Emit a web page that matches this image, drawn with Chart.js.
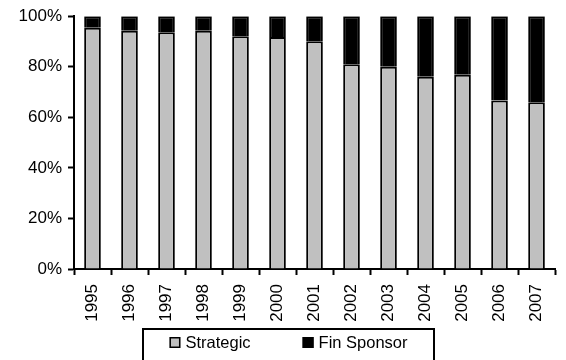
<!DOCTYPE html>
<html>
<head>
<meta charset="utf-8">
<script src="https://cdn.jsdelivr.net/npm/chart.js@4/dist/chart.umd.min.js"></script>
<style>
  html, body { margin: 0; padding: 0; background: #ffffff; }
  #wrap { width: 566px; height: 360px; }
</style>
</head>
<body>
<div id="wrap"><canvas id="chart" width="566" height="360"></canvas></div>
<script>
// Deal mix by buyer type, share of each year (%)
const years = ['1995', '1996', '1997', '1998', '1999', '2000', '2001', '2002', '2003', '2004', '2005', '2006', '2007'];
const strategic = [95.4, 94.2, 93.7, 94.2, 92.1, 91.8, 90.1, 81.0, 80.0, 76.0, 76.8, 66.7, 66.0];
const finSponsor = [4.6, 5.8, 6.3, 5.8, 7.9, 8.2, 9.9, 19.0, 20.0, 24.0, 23.2, 33.3, 34.0];
const percentTicks = [0, 20, 40, 60, 80, 100];

const FONT = '"Liberation Sans", Arial, Helvetica, sans-serif';
Chart.defaults.font.family = FONT;
Chart.defaults.font.size = 17;
Chart.defaults.color = '#000000';

// Framed legend under the axis labels
const framedLegend = {
  id: 'framedLegend',
  afterDraw(chart) {
    const ctx = chart.ctx;
    ctx.save();
    ctx.font = '16.5px ' + FONT;
    ctx.textBaseline = 'middle';
    ctx.textAlign = 'left';
    const sw = 11, gapText = 5, gapItem = 52;
    const items = chart.data.datasets.map(ds => ({
      text: ds.label,
      fill: ds.backgroundColor,
      w: ctx.measureText(ds.label).width
    }));
    const total = items.reduce((s, it) => s + sw + gapText + it.w, 0) + gapItem * (items.length - 1);
    const frameL = 143, frameR = 434, frameT = 329;
    ctx.strokeStyle = '#000000';
    ctx.lineWidth = 2;
    ctx.strokeRect(frameL, frameT, frameR - frameL, chart.height - frameT + 10);
    let x = (frameL + frameR) / 2 - total / 2;
    const cy = 343;
    items.forEach(it => {
      ctx.fillStyle = it.fill;
      ctx.fillRect(x, cy - 6, sw, sw);
      ctx.lineWidth = 1.5;
      ctx.strokeRect(x + 0.75, cy - 5.25, sw - 1.5, sw - 1.5);
      ctx.fillStyle = '#000000';
      ctx.fillText(it.text, x + sw + gapText, cy);
      x += sw + gapText + it.w + gapItem;
    });
    ctx.restore();
  }
};

new Chart(document.getElementById('chart'), {
  type: 'bar',
  data: {
    labels: years,
    datasets: [
      {
        label: 'Strategic',
        data: strategic,
        backgroundColor: '#c0c0c0',
        borderColor: '#000000',
        borderWidth: 2,
        categoryPercentage: 0.9,
        barPercentage: 0.5
      },
      {
        label: 'Fin Sponsor',
        data: finSponsor,
        backgroundColor: '#000000',
        borderColor: '#000000',
        borderWidth: 2,
        categoryPercentage: 0.9,
        barPercentage: 0.5
      }
    ]
  },
  options: {
    responsive: false,
    animation: false,
    layout: { padding: { left: 0, right: 2, top: 16, bottom: 38 } },
    plugins: {
      legend: { display: false },
      tooltip: { enabled: false }
    },
    scales: {
      x: {
        stacked: true,
        grid: {
          offset: true,
          drawOnChartArea: false,
          tickLength: 6,
          tickWidth: 2,
          tickColor: '#000000'
        },
        border: { color: '#000000', width: 2 },
        ticks: {
          minRotation: 90,
          maxRotation: 90,
          padding: 9,
          font: { size: 17 }
        },
        afterFit(scale) { scale.height = 53; }
      },
      y: {
        stacked: true,
        min: 0,
        max: 100,
        afterBuildTicks(scale) { scale.ticks = percentTicks.map(v => ({ value: v })); },
        grid: {
          drawOnChartArea: false,
          tickLength: 6,
          tickWidth: 2,
          tickColor: '#000000'
        },
        border: { color: '#000000', width: 2 },
        ticks: {
          padding: 6,
          font: { size: 17 },
          callback: v => v + '%'
        },
        afterFit(scale) { scale.width = 74; }
      }
    }
  },
  plugins: [framedLegend]
});
</script>
</body>
</html>
